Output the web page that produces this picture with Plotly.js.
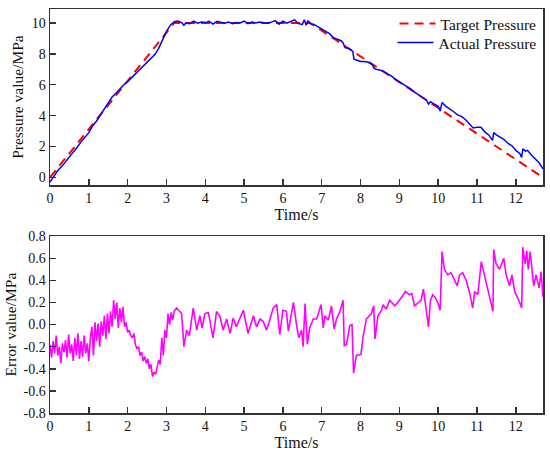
<!DOCTYPE html>
<html>
<head>
<meta charset="utf-8">
<script src="https://cdn.plot.ly/plotly-3.0.1.min.js"></script>
<style>html,body{margin:0;padding:0;background:#fff;}#chart{width:550px;height:452px;}</style>
</head>
<body>
<div id="chart"></div>
<script>
// Target pressure (MPa)
var targetTime = [0, 3.2, 6.7, 12.7];
var targetPressure = [0, 10, 10, 0];

// Actual pressure (MPa)
var actualTime = [0,0.1,0.2,0.3,0.4,0.5,0.6,0.7,0.8,0.9,1.0,1.1,1.2,1.3,1.4,1.5,1.6,1.7,1.8,1.9,2.0,2.1,2.2,2.3,2.4,2.5,2.6,2.7,2.8,2.9,3.0,3.1,3.2,3.3,3.4,3.45,3.5,3.6,3.7,3.8,3.9,4.0,4.1,4.2,4.3,4.4,4.5,4.6,4.7,4.8,4.9,5.0,5.1,5.2,5.3,5.4,5.5,5.6,5.7,5.8,5.9,6.0,6.1,6.2,6.3,6.4,6.5,6.55,6.6,6.65,6.7,6.8,6.9,7.0,7.1,7.2,7.3,7.4,7.5,7.55,7.6,7.7,7.8,7.83,7.9,8.0,8.1,8.2,8.3,8.35,8.4,8.5,8.6,8.7,8.8,8.9,9.0,9.1,9.2,9.3,9.4,9.5,9.6,9.7,9.75,9.8,9.9,10.0,10.05,10.1,10.2,10.3,10.4,10.5,10.6,10.7,10.8,10.9,11.0,11.1,11.2,11.3,11.4,11.43,11.5,11.6,11.7,11.8,11.9,12.0,12.1,12.15,12.18,12.25,12.3,12.4,12.5,12.6,12.7];
var actualPressure = [-0.3,0.1,0.45,0.7,1.0,1.35,1.65,1.95,2.3,2.6,2.9,3.35,3.65,4.05,4.45,4.8,5.2,5.45,5.75,6.0,6.2,6.45,6.65,6.95,7.2,7.45,7.7,7.95,8.35,8.95,9.45,9.85,10.08,10.12,10.0,9.85,10.0,9.95,10.12,9.98,10.05,10.02,10.1,9.92,10.1,10.05,9.98,10.05,9.95,10.02,10.0,10.12,9.95,10.05,10.0,10.05,10.02,9.98,10.05,10.15,9.92,10.12,9.98,10.1,10.2,9.95,9.9,10.2,9.85,10.15,9.95,9.9,9.75,9.55,9.45,9.3,9.05,8.95,8.85,8.7,8.4,8.35,8.15,7.65,7.6,7.5,7.5,7.45,7.3,7.05,7.0,6.95,6.85,6.72,6.55,6.35,6.2,6.05,5.9,5.72,5.5,5.35,5.2,5.0,4.75,4.9,4.75,4.6,4.3,4.85,4.6,4.45,4.25,4.05,3.95,3.75,3.5,3.2,3.25,3.25,2.95,2.75,2.4,2.9,2.75,2.6,2.45,2.2,2.05,1.75,1.55,1.3,1.85,1.7,1.75,1.45,1.2,0.95,0.55];

// Error (MPa)
var errorTime = [0,0.04,0.08,0.12,0.16,0.20,0.24,0.28,0.32,0.36,0.40,0.44,0.48,0.52,0.56,0.60,0.64,0.68,0.72,0.76,0.80,0.84,0.88,0.92,0.96,1.00,
1.04,1.08,1.12,1.16,1.20,1.24,1.28,1.32,1.36,1.40,1.44,1.48,1.52,1.56,1.60,1.64,1.68,1.72,1.76,1.80,1.84,1.88,1.92,1.96,2.00,
2.04,2.08,2.12,2.16,2.20,2.24,2.28,2.32,2.36,2.40,2.44,2.48,2.52,2.56,2.60,2.64,2.68,2.72,2.76,2.80,2.84,2.88,2.92,2.96,3.00,
3.04,3.08,3.12,3.16,3.20,3.26,3.39,3.45,3.52,3.59,3.69,3.78,3.86,3.92,3.99,4.08,4.2,4.29,4.38,4.46,4.55,4.64,4.72,4.8,4.89,4.98,
5.1,5.24,5.32,5.41,5.49,5.58,5.67,5.75,5.84,5.92,6.0,6.09,6.14,6.27,6.35,6.41,6.48,6.52,6.57,6.63,6.69,6.78,6.87,6.98,
7.04,7.08,7.17,7.25,7.32,7.38,7.47,7.55,7.58,7.64,7.72,7.78,7.82,7.89,8.01,8.07,8.15,8.28,8.34,8.37,8.45,8.54,8.58,8.66,8.75,8.88,8.96,
9.05,9.16,9.26,9.32,9.39,9.48,9.56,9.62,9.67,9.75,9.8,9.86,9.91,9.99,10.05,10.1,10.16,10.25,10.33,10.42,10.49,10.55,10.63,10.72,10.8,10.89,10.94,
11.02,11.11,11.19,11.28,11.36,11.41,11.43,11.49,11.58,11.69,11.75,11.84,11.9,11.97,12.1,12.15,12.18,12.24,12.28,12.32,12.37,12.43,12.46,12.52,12.56,12.6,12.65,12.7];
var errorValue = [-0.18,-0.30,-0.15,-0.26,-0.10,-0.28,-0.20,-0.35,-0.17,-0.25,-0.14,-0.30,-0.09,-0.26,-0.18,-0.33,-0.12,-0.28,-0.08,-0.31,-0.15,-0.29,-0.10,-0.26,-0.17,-0.33,
-0.12,-0.02,-0.28,0.02,-0.15,0.01,-0.20,0.03,-0.10,0.08,-0.13,0.10,-0.08,0.12,-0.02,0.22,0.05,0.20,-0.03,0.15,0.02,0.16,-0.02,0.02,-0.07,
-0.05,-0.10,-0.12,-0.08,-0.18,-0.22,-0.20,-0.28,-0.25,-0.33,-0.29,-0.35,-0.31,-0.40,-0.36,-0.47,-0.43,-0.45,-0.38,-0.32,-0.36,-0.12,-0.28,-0.05,-0.12,
0.10,0.0,0.11,0.04,0.12,0.15,0.10,-0.20,-0.05,-0.10,0.15,-0.05,0.08,-0.03,0.10,0.11,-0.12,0.12,0.07,-0.05,0.05,-0.08,0.06,-0.02,0.05,0.13,
-0.08,0.08,-0.02,0.05,0.03,-0.05,0.05,0.15,0.18,-0.09,0.13,0.12,-0.06,0.20,0.0,-0.12,-0.05,-0.20,0.19,-0.18,-0.03,0.05,0.05,0.18,
-0.03,0.08,0.04,0.17,-0.04,0.05,0.12,0.22,-0.19,-0.18,-0.01,0.0,-0.44,-0.28,-0.27,-0.10,0.05,0.10,0.17,-0.13,0.08,0.13,0.18,0.14,0.22,0.17,0.20,
0.25,0.30,0.27,0.28,0.17,0.20,0.22,0.32,0.18,-0.02,0.22,0.27,0.25,0.20,0.13,0.66,0.50,0.45,0.47,0.40,0.35,0.45,0.47,0.40,0.30,0.15,0.30,
0.27,0.57,0.45,0.32,0.20,0.12,0.68,0.55,0.50,0.60,0.45,0.35,0.45,0.30,0.20,0.15,0.70,0.55,0.67,0.50,0.66,0.45,0.35,0.45,0.40,0.33,0.48,0.25];

// Tick labels
var xTickVals = [0,1,2,3,4,5,6,7,8,9,10,11,12];
var xTickText = ['0','1','2','3','4','5','6','7','8','9','10','11','12'];
var pTickVals = [0,2,4,6,8,10];
var pTickText = ['0','2','4','6','8','10'];
var eTickVals = [-0.8,-0.6,-0.4,-0.2,0,0.2,0.4,0.6,0.8];
var eTickText = ['-0.8','-0.6','-0.4','-0.2','0.0','0.2','0.4','0.6','0.8'];

var FONT = 'Liberation Serif, Times New Roman, serif';

var traces = [
  {x: targetTime, y: targetPressure, type: 'scatter', mode: 'lines', name: 'Target Pressure',
   line: {color: '#FF0000', width: 2, dash: '9px,6px'}, xaxis: 'x', yaxis: 'y', legend: 'legend'},
  {x: actualTime, y: actualPressure, type: 'scatter', mode: 'lines', name: 'Actual Pressure',
   line: {color: '#0000FF', width: 1.5}, xaxis: 'x', yaxis: 'y', legend: 'legend2'},
  {x: errorTime, y: errorValue, type: 'scatter', mode: 'lines', name: 'Error',
   line: {color: '#FF00FF', width: 1.6}, xaxis: 'x2', yaxis: 'y2', showlegend: false}
];

function xAxis(anchor) {
  return {
    domain: [0, 1], anchor: anchor, range: [0, 12.7],
    tickmode: 'array', tickvals: xTickVals, ticktext: xTickText,
    ticks: 'inside', ticklen: 6, tickwidth: 1.5, tickcolor: '#333',
    showline: true, linecolor: '#333', linewidth: 1.5, mirror: true,
    showgrid: false, zeroline: false,
    tickfont: {family: FONT, size: 14, color: '#111'},
    title: {text: 'Time/s', font: {family: FONT, size: 16, color: '#111'}, standoff: 0}
  };
}

function legendAt(y) {
  return {x: 0.997, y: y, xanchor: 'right', yanchor: 'middle', bgcolor: 'rgba(0,0,0,0)',
    font: {family: FONT, size: 15.5, color: '#111'}, itemwidth: 36};
}

var layout = {
  width: 550, height: 452,
  margin: {l: 50, r: 7, t: 9, b: 39},
  paper_bgcolor: '#fff', plot_bgcolor: '#fff',
  showlegend: true,
  legend: legendAt(0.963),
  legend2: legendAt(0.916),
  xaxis: xAxis('y'),
  xaxis2: xAxis('y2'),
  yaxis: {
    domain: [0.564, 1], anchor: 'x', range: [-0.5, 10.9],
    tickmode: 'array', tickvals: pTickVals, ticktext: pTickText,
    ticks: 'inside', ticklen: 6, tickwidth: 1.5, tickcolor: '#333',
    showline: true, linecolor: '#333', linewidth: 1.5, mirror: true,
    showgrid: false, zeroline: false,
    tickfont: {family: FONT, size: 14, color: '#111'},
    title: {text: 'Pressure value/MPa', font: {family: FONT, size: 15.5, color: '#111'}, standoff: 4}
  },
  yaxis2: {
    domain: [0, 0.4377], anchor: 'x2', range: [-0.8, 0.8],
    tickmode: 'array', tickvals: eTickVals, ticktext: eTickText,
    ticks: 'inside', ticklen: 6, tickwidth: 1.5, tickcolor: '#333',
    showline: true, linecolor: '#333', linewidth: 1.5, mirror: true,
    showgrid: false, zeroline: false,
    tickfont: {family: FONT, size: 14, color: '#111'},
    title: {text: 'Error value/MPa', font: {family: FONT, size: 15.5, color: '#111'}, standoff: 3}
  }
};

Plotly.newPlot('chart', traces, layout, {displayModeBar: false, staticPlot: true});
</script>
</body>
</html>
